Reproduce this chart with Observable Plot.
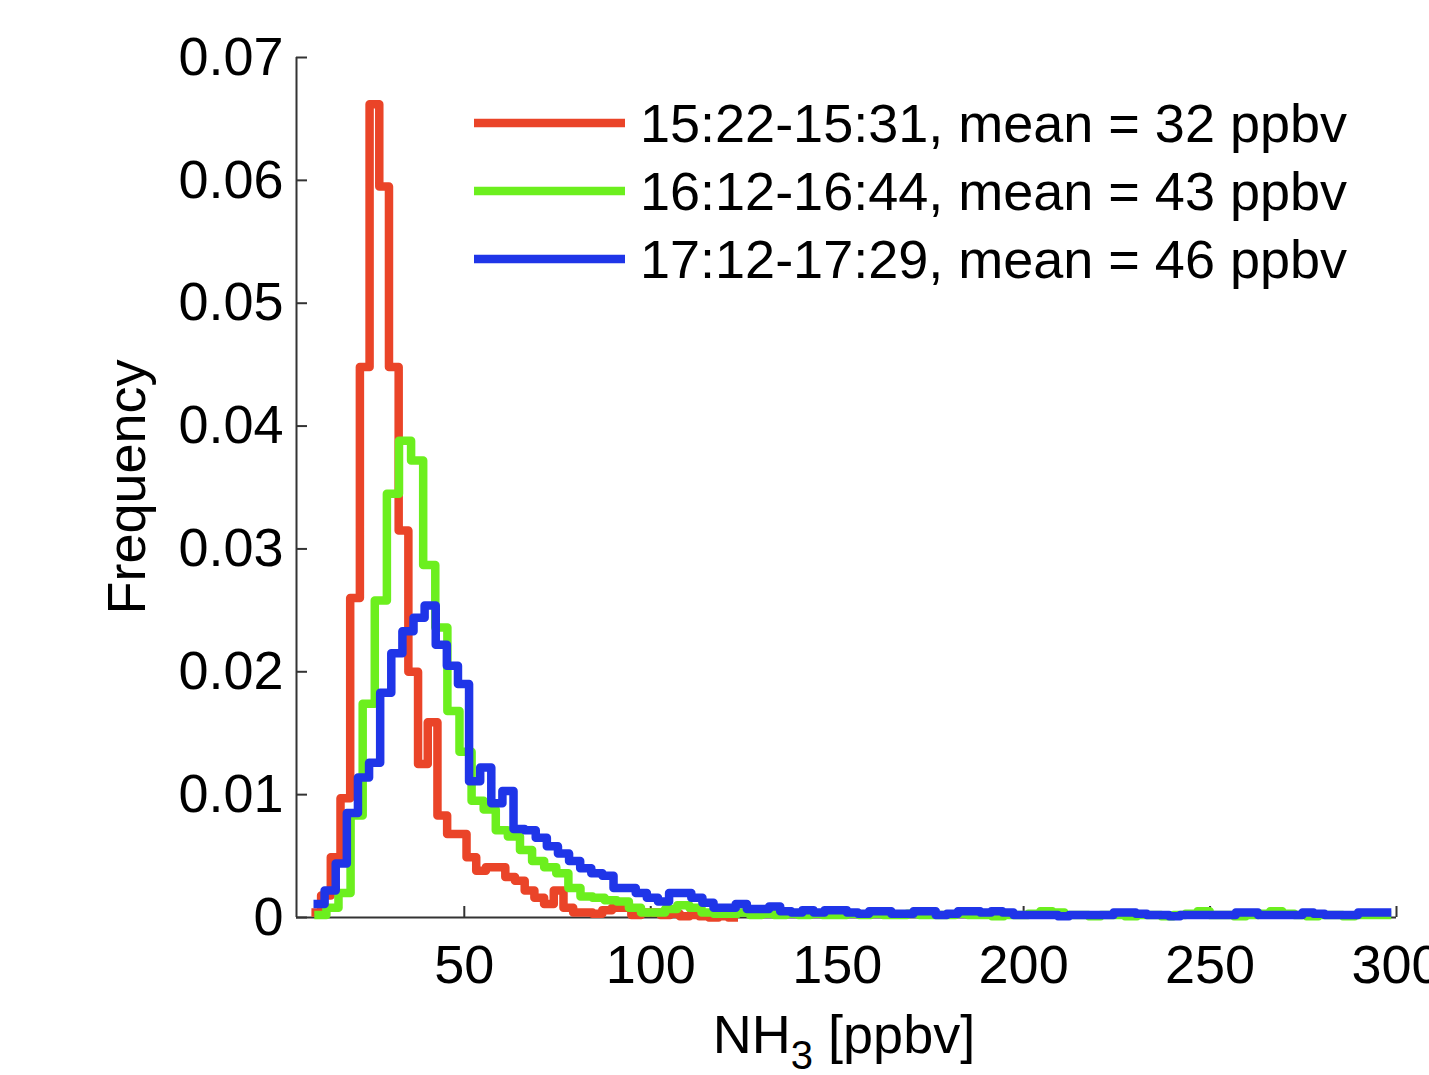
<!DOCTYPE html>
<html><head><meta charset="utf-8">
<script src="https://cdn.jsdelivr.net/npm/d3@7"></script>
<script src="https://cdn.jsdelivr.net/npm/@observablehq/plot@0.6"></script>
<style>body{margin:0;background:#fff} svg{display:block}</style>
</head><body><div id="chart"></div>
<script>
// ---- data ----
const seriesNames = ["15:22-15:31, mean = 32 ppbv", "16:12-16:44, mean = 43 ppbv", "17:12-17:29, mean = 46 ppbv"];
const seriesColors = ["#ea4428", "#6cef1e", "#1f35e8"];
const xTicks = [50, 100, 150, 200, 250, 300];
const yTicks = [0, 0.01, 0.02, 0.03, 0.04, 0.05, 0.06, 0.07];
const xLabel = "NH";
const yLabel = "Frequency";

// histogram bins: first bin edge (ppbv) and bin width (ppbv) for each period
const redBinStart = 9.0, redBinWidth = 2.6;
const greenBinStart = 9.77, greenBinWidth = 3.245;
const blueBinStart = 9.56, blueBinWidth = 2.98;

const redFreq = [0.0004, 0.0018, 0.0049, 0.0097, 0.0260, 0.0448, 0.0662, 0.0595, 0.0448, 0.0315,
  0.0200, 0.0125, 0.0159, 0.0083, 0.0068, 0.0068, 0.0049, 0.0038, 0.0041, 0.0041,
  0.0033, 0.0030, 0.0022, 0.0016, 0.0011, 0.0022, 0.0008, 0.0004, 0.0004, 0.0003,
  0.0006, 0.0008, 0.0008, 0.0002, 0.0004, 0.0004, 0.0002, 0.0003, 0.0001, 0.0002,
  0.0001, 0.0000, 0.0001, 0.0000];

const greenFreq = [0.0002, 0.0008, 0.0020, 0.0083, 0.0174, 0.0258, 0.0345, 0.0388, 0.0372, 0.0287,
  0.0236, 0.0168, 0.0135, 0.0095, 0.0088, 0.0071, 0.0066, 0.0055, 0.0046, 0.0041,
  0.0036, 0.0024, 0.0017, 0.0016, 0.0014, 0.0013, 0.0008, 0.0004, 0.0004, 0.0007,
  0.0010, 0.0008, 0.0004, 0.0003, 0.0003, 0.0004, 0.0002, 0.0003, 0.0002, 0.0003,
  0.0002, 0.0003, 0.0002, 0.0002, 0.0003, 0.0002, 0.0003, 0.0002, 0.0002, 0.0003,
  0.0002, 0.0002, 0.0002, 0.0003, 0.0002, 0.0002, 0.0001, 0.0002, 0.0002, 0.0003,
  0.0005, 0.0004, 0.0002, 0.0002, 0.0001, 0.0002, 0.0002, 0.0001, 0.0002, 0.0002,
  0.0001, 0.0002, 0.0003, 0.0005, 0.0002, 0.0002, 0.0001, 0.0002, 0.0003, 0.0005,
  0.0003, 0.0002, 0.0001, 0.0002, 0.0002, 0.0001, 0.0002, 0.0002, 0.0002];

const blueFreq = [0.0011, 0.0022, 0.0044, 0.0085, 0.0114, 0.0126, 0.0183, 0.0215, 0.0233, 0.0244,
  0.0254, 0.0222, 0.0205, 0.0190, 0.0111, 0.0122, 0.0093, 0.0103, 0.0072, 0.0071,
  0.0065, 0.0058, 0.0052, 0.0046, 0.0040, 0.0036, 0.0034, 0.0024, 0.0024, 0.0020,
  0.0016, 0.0013, 0.0020, 0.0020, 0.0016, 0.0012, 0.0008, 0.0008, 0.0011, 0.0007,
  0.0007, 0.0009, 0.0005, 0.0004, 0.0006, 0.0004, 0.0006, 0.0006, 0.0004, 0.0003,
  0.0005, 0.0005, 0.0003, 0.0003, 0.0005, 0.0005, 0.0002, 0.0003, 0.0005, 0.0005,
  0.0004, 0.0005, 0.0004, 0.0002, 0.0002, 0.0002, 0.0002, 0.0001, 0.0002, 0.0002,
  0.0002, 0.0002, 0.0004, 0.0004, 0.0003, 0.0002, 0.0002, 0.0001, 0.0002, 0.0002,
  0.0002, 0.0002, 0.0002, 0.0004, 0.0004, 0.0002, 0.0002, 0.0002, 0.0002, 0.0004,
  0.0003, 0.0002, 0.0002, 0.0002, 0.0004, 0.0004, 0.0004];

// ---- build step outlines ----
function outline(name, start, width, values) {
  const pts = values.map((v, i) => ({series: name, x: start + i * width, y: v}));
  pts.push({series: name, x: start + values.length * width, y: values[values.length - 1]});
  return pts;
}
const redLine = outline(seriesNames[0], redBinStart, redBinWidth, redFreq);
const greenLine = outline(seriesNames[1], greenBinStart, greenBinWidth, greenFreq);
const blueLine = outline(seriesNames[2], blueBinStart, blueBinWidth, blueFreq);

const W = 1429, H = 1075;
const mL = 296, mR = 33, mT = 57, mB = 158;
const plotW = W - mL - mR, plotH = H - mT - mB;
const font = "'Liberation Sans', Arial, Helvetica, sans-serif";
const axisColor = "#333";
const lw = 8.5;

const lineOpts = (color) => ({x: "x", y: "y", stroke: color, strokeWidth: lw, curve: "step-after", strokeLinejoin: "round", strokeLinecap: "butt"});

const chart = Plot.plot({
  width: W, height: H,
  marginLeft: mL, marginRight: mR, marginTop: mT, marginBottom: mB,
  style: {fontFamily: font, background: "#fff", color: "#000"},
  x: {domain: [5, 300]},
  y: {domain: [0, 0.07]},
  marks: [
    Plot.ruleX([5], {stroke: axisColor, strokeWidth: 2}),
    Plot.ruleY([0], {stroke: axisColor, strokeWidth: 2}),
    Plot.tickY(yTicks, {y: d => d, stroke: axisColor, strokeWidth: 2, insetRight: plotW - 11}),
    Plot.tickX(xTicks, {x: d => d, stroke: axisColor, strokeWidth: 2, insetTop: plotH - 11}),
    Plot.axisX({ticks: xTicks, tickSize: 0, tickPadding: 27, fontSize: 54, label: null, tickFormat: d => String(d), fill: "#000"}),
    Plot.axisY({ticks: yTicks, tickSize: 0, tickPadding: 13, fontSize: 54, label: null, tickFormat: d => d === 0 ? "0" : d.toFixed(2), fill: "#000"}),
    Plot.line(redLine, lineOpts(seriesColors[0])),
    Plot.line(greenLine, lineOpts(seriesColors[1])),
    Plot.line(blueLine, lineOpts(seriesColors[2]))
  ]
});
document.getElementById("chart").appendChild(chart);

// ---- annotations: axis titles and legend ----
const svg = d3.select(chart);
svg.append("text")
  .attr("transform", `translate(145,487) rotate(-90)`)
  .attr("text-anchor", "middle")
  .attr("font-family", font).attr("font-size", 54).attr("fill", "#000")
  .text(yLabel);

const xl = svg.append("text")
  .attr("x", 844).attr("y", 1053)
  .attr("text-anchor", "middle")
  .attr("font-family", font).attr("font-size", 54).attr("fill", "#000");
xl.append("tspan").text(xLabel);
xl.append("tspan").attr("font-size", 40).attr("dy", 16).text("3");
xl.append("tspan").attr("dy", -16).text(" [ppbv]");

const legend = svg.append("g");
seriesNames.forEach((name, i) => {
  const y = 123 + i * 68;
  legend.append("line").attr("x1", 474).attr("x2", 625).attr("y1", y).attr("y2", y)
    .attr("stroke", seriesColors[i]).attr("stroke-width", lw);
  legend.append("text").attr("x", 640).attr("y", y).attr("dy", "0.35em")
    .attr("text-anchor", "start")
    .attr("font-family", font).attr("font-size", 54).attr("fill", "#000")
    .text(name);
});
</script>
</body></html>
